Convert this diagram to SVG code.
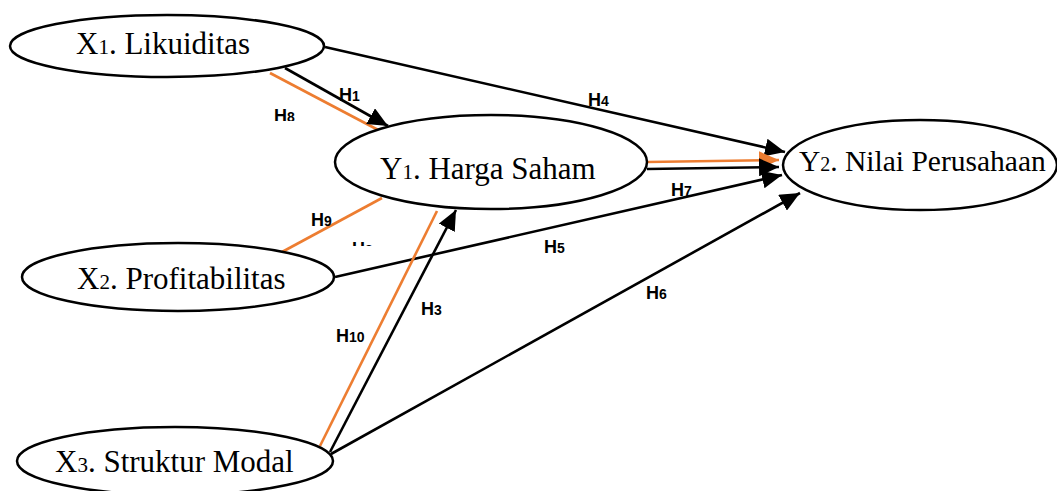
<svg xmlns="http://www.w3.org/2000/svg" width="1057" height="491" viewBox="0 0 1057 491">
<style>
.node{fill:#fff;stroke:#000;stroke-width:2.5}
.nt{font-family:"Liberation Serif","Times New Roman",serif;font-size:31px;fill:#000}
.sub{font-size:21px}
.blk{stroke:#000;stroke-width:2.6;fill:none}
.org{stroke:#ED7D31;stroke-width:2.6;fill:none}
.lbl{font-family:"Liberation Sans",Arial,sans-serif;font-weight:bold;font-size:18px;fill:#000}
.ls{font-size:14px}
</style>
<defs>
<marker id="ab" markerUnits="userSpaceOnUse" markerWidth="22" markerHeight="18" refX="20" refY="9" orient="auto"><path d="M0,0 L20,9 L0,18 Z" fill="#000"/></marker>
<marker id="ao" markerUnits="userSpaceOnUse" markerWidth="22" markerHeight="18" refX="20" refY="9" orient="auto"><path d="M0,0 L20,9 L0,18 Z" fill="#ED7D31"/></marker>
<clipPath id="c8"><rect x="260" y="100" width="40" height="21"/></clipPath>
<clipPath id="c2"><rect x="345" y="235" width="40" height="11"/></clipPath>
</defs>
<rect width="1057" height="491" fill="#fff"/>
<g id="connectors">
<line class="org" x1="270" y1="73" x2="382" y2="132"/>
<line class="blk" x1="285" y1="68" x2="388" y2="126" marker-end="url(#ab)"/>
<line class="blk" x1="325" y1="47" x2="785" y2="152" marker-end="url(#ab)"/>
<line class="org" x1="647" y1="162" x2="779" y2="160" marker-end="url(#ao)"/>
<line class="blk" x1="647" y1="169" x2="779" y2="167" marker-end="url(#ab)"/>
<line class="blk" x1="335" y1="277" x2="782" y2="175" marker-end="url(#ab)"/>
<line class="blk" x1="331" y1="454" x2="800" y2="193" marker-end="url(#ab)"/>
<line class="org" x1="320" y1="446" x2="437" y2="211"/>
<line class="blk" x1="330" y1="452" x2="456" y2="210" marker-end="url(#ab)"/>
<line class="org" x1="282" y1="252" x2="382" y2="198"/>
</g>
<g id="labels">
<text class="lbl" x="339" y="101">H<tspan class="ls">1</tspan></text>
<text class="lbl" x="274" y="122" clip-path="url(#c8)">H<tspan class="ls">8</tspan></text>
<text class="lbl" x="588" y="106">H<tspan class="ls">4</tspan></text>
<text class="lbl" x="671" y="196">H<tspan class="ls">7</tspan></text>
<text class="lbl" x="311" y="226">H<tspan class="ls">9</tspan></text>
<text class="lbl" x="352" y="255" clip-path="url(#c2)">H<tspan class="ls">2</tspan></text>
<text class="lbl" x="544" y="253">H<tspan class="ls">5</tspan></text>
<text class="lbl" x="646" y="299">H<tspan class="ls">6</tspan></text>
<text class="lbl" x="421" y="315">H<tspan class="ls">3</tspan></text>
<text class="lbl" x="336" y="342">H<tspan class="ls">10</tspan></text>
</g>
<g id="x1">
<ellipse class="node" cx="167" cy="46" rx="157" ry="31"/>
<text class="nt" x="76" y="54">X<tspan class="sub">1</tspan>. Likuiditas</text>
</g>
<g id="y1">
<ellipse class="node" cx="491" cy="162" rx="156" ry="47"/>
<text class="nt" x="380" y="179">Y<tspan class="sub">1</tspan>. Harga Saham</text>
</g>
<g id="y2">
<ellipse class="node" cx="920" cy="165" rx="137" ry="45"/>
<text class="nt" x="799" y="171" style="font-size:29.5px">Y<tspan style="font-size:20px">2</tspan>. Nilai Perusahaan</text>
</g>
<g id="x2">
<ellipse class="node" cx="178" cy="277" rx="156" ry="34"/>
<text class="nt" x="77" y="289">X<tspan class="sub">2</tspan>. Profitabilitas</text>
</g>
<g id="x3">
<ellipse class="node" cx="175" cy="461" rx="158" ry="34"/>
<text class="nt" x="55" y="472">X<tspan class="sub">3</tspan>. Struktur Modal</text>
</g>
</svg>
